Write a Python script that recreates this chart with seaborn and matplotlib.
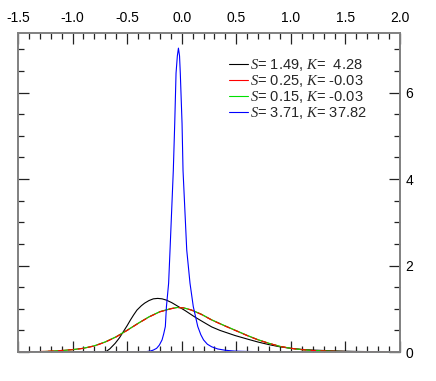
import numpy as np
import pandas as pd
import matplotlib
matplotlib.use("Agg")
import matplotlib.pyplot as plt
import seaborn as sns
from matplotlib.ticker import MultipleLocator

# Curvas (densidades)
x_black = [-1.5, -0.75, -0.70, -0.66, -0.61, -0.57, -0.535, -0.50, -0.47, -0.44, -0.41, -0.37,
           -0.34, -0.30, -0.26, -0.22, -0.18, -0.14, -0.09, -0.03, 0.03, 0.12, 0.20, 0.275,
           0.35, 0.49, 0.60, 0.70, 0.80, 0.90, 1.0, 1.1, 1.2, 1.4, 1.6, 1.8, 2.0]
y_black = [0, 0, 0.0, 0.07, 0.20, 0.33, 0.47, 0.61, 0.74, 0.86, 0.97, 1.07,
           1.13, 1.19, 1.23, 1.24, 1.23, 1.20, 1.14, 1.05, 0.96, 0.81, 0.69, 0.58,
           0.50, 0.38, 0.30, 0.23, 0.17, 0.12, 0.085, 0.06, 0.045, 0.025, 0.013, 0.007, 0.004]

x_rg = [-1.5, -1.3, -1.2, -1.1, -1.0, -0.9, -0.8, -0.7, -0.6, -0.5, -0.4, -0.3, -0.2, -0.1,
        -0.04, 0.02, 0.09, 0.18, 0.275, 0.38, 0.49, 0.6, 0.7, 0.8, 0.9, 1.0, 1.1, 1.2,
        1.4, 1.6, 1.8, 2.0]
y_red = [0.003, 0.01, 0.02, 0.035, 0.055, 0.085, 0.14, 0.23, 0.35, 0.50, 0.66, 0.81, 0.93, 1.00,
         1.03, 1.02, 0.97, 0.87, 0.74, 0.62, 0.50, 0.38, 0.28, 0.20, 0.13, 0.085, 0.055, 0.035,
         0.015, 0.006, 0.002, 0.001]
y_green = [0.002, 0.008, 0.018, 0.033, 0.055, 0.088, 0.145, 0.235, 0.355, 0.505, 0.665, 0.815,
           0.935, 1.005, 1.03, 1.02, 0.97, 0.875, 0.745, 0.625, 0.505, 0.385, 0.285, 0.20,
           0.13, 0.085, 0.055, 0.035, 0.015, 0.006, 0.002, 0.001]

x_blue = [-1.5, -0.45, -0.38, -0.33, -0.29, -0.26, -0.23, -0.205, -0.18, -0.165, -0.15, -0.14,
          -0.12, -0.107, -0.077, -0.064, -0.052, -0.04, -0.03, -0.02, -0.013, 0.003, 0.012,
          0.046, 0.076, 0.106, 0.147, 0.175, 0.20, 0.235, 0.275, 0.33, 0.40, 0.49, 0.6, 0.8,
          1.0, 1.5, 2.0]
y_blue = [0, 0, 0.002, 0.008, 0.02, 0.045, 0.085, 0.16, 0.28, 0.42, 0.59, 1.05,
          1.59, 2.36, 4.2, 5.29, 6.45, 6.85, 7.03, 6.85, 6.45, 5.29, 4.2,
          2.36, 1.59, 1.05, 0.59, 0.40, 0.28, 0.18, 0.12, 0.07, 0.04, 0.02, 0.012, 0.006,
          0.003, 0.001, 0]

labels = [r"$S$= 1.49, $K$=  4.28",
          r"$S$= 0.25, $K$= -0.03",
          r"$S$= 0.15, $K$= -0.03",
          r"$S$= 3.71, $K$= 37.82"]

sns.set_style("ticks")
plt.rcParams["font.family"] = ["Liberation Sans", "DejaVu Sans"]
plt.rcParams["mathtext.fontset"] = "custom"
plt.rcParams["mathtext.it"] = "Liberation Serif:italic"
plt.rcParams["mathtext.rm"] = "Liberation Sans"
plt.rcParams["axes.unicode_minus"] = False

fig = plt.figure(figsize=(4.36, 3.81), dpi=100)
ax = fig.add_axes([18 / 436, 29 / 381, 382 / 436, 319 / 381])

lw = 0.8
sns.lineplot(x=x_black, y=y_black, color="black", lw=lw, estimator=None, ax=ax, label=labels[0])
sns.lineplot(x=x_rg, y=y_red, color="red", lw=lw, estimator=None, ax=ax, label=labels[1])
sns.lineplot(x=x_rg, y=y_green, color="#00e000", lw=lw, estimator=None, ax=ax, label=labels[2])
sns.lineplot(x=x_blue, y=y_blue, color="blue", lw=lw, estimator=None, ax=ax, label=labels[3])
# rojo discontinuo encima del verde (se ven alternados)
ax.plot(x_rg, y_red, color="red", lw=lw, dashes=(5, 4), label="_nolegend_")

ax.set_xlim(-1.5, 2.0)
ax.set_ylim(0, 7.38)
ax.xaxis.set_major_locator(MultipleLocator(0.5))
ax.xaxis.set_minor_locator(MultipleLocator(0.1))
ax.yaxis.set_major_locator(MultipleLocator(2))
ax.yaxis.set_minor_locator(MultipleLocator(0.5))
ax.xaxis.set_major_formatter(matplotlib.ticker.FormatStrFormatter("%.1f"))
ax.tick_params(which="both", direction="in", top=True, bottom=True, left=True, right=True,
               labeltop=True, labelbottom=False, labelleft=False, labelright=True,
               colors="#222222", labelcolor="black", labelsize=10, width=0.9)
ax.tick_params(which="major", length=8)
ax.tick_params(which="minor", length=4)
ax.tick_params(axis="y", which="major", pad=4)
ax.tick_params(axis="x", which="major", pad=6)
ax.set_xlabel("")
ax.set_ylabel("")
for sp in ax.spines.values():
    sp.set_color("#808080")
    sp.set_linewidth(1.4)

ax.legend(loc="upper left", bbox_to_anchor=(0.553, 0.925), frameon=False, fontsize=10.5,
          handlelength=1.3, handletextpad=0.15, labelspacing=0.0, borderpad=0.0,
          borderaxespad=0.0)

fig.savefig("out.png", dpi=100)
